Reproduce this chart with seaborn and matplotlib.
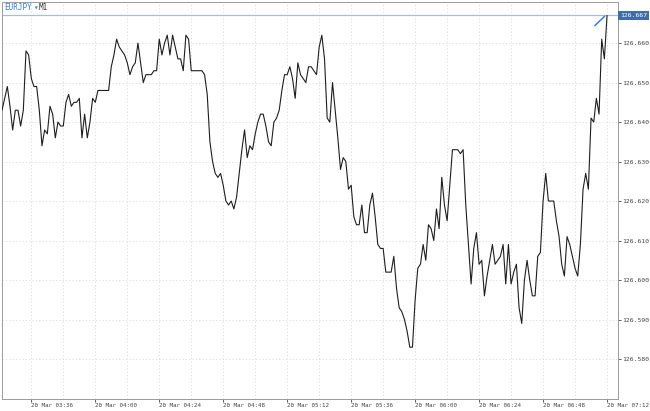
import pandas as pd
import matplotlib
matplotlib.use('Agg')
import matplotlib.pyplot as plt
import matplotlib.dates as mdates
import seaborn as sns

# EURJPY M1 closes, 20 Mar from 03:25 onwards
symbol = 'EURJPY'
timeframe = 'M1'
start_time = '2019-03-20 03:25'
close = [
    126.643, 126.646, 126.649, 126.644, 126.638, 126.643, 126.643, 126.639, 126.643, 126.658,
    126.657, 126.651, 126.649, 126.649, 126.643, 126.634, 126.638, 126.637, 126.644, 126.642,
    126.636, 126.640, 126.639, 126.639, 126.645, 126.647, 126.644, 126.645, 126.645, 126.646,
    126.636, 126.642, 126.636, 126.640, 126.646, 126.645, 126.648, 126.648, 126.648, 126.648,
    126.648, 126.654, 126.657, 126.661, 126.659, 126.658, 126.657, 126.655, 126.652, 126.654,
    126.655, 126.660, 126.655, 126.650, 126.652, 126.652, 126.652, 126.653, 126.653, 126.661,
    126.657, 126.660, 126.662, 126.657, 126.662, 126.659, 126.656, 126.656, 126.653, 126.662,
    126.661, 126.653, 126.653, 126.653, 126.653, 126.653, 126.652, 126.647, 126.635, 126.630,
    126.627, 126.626, 126.627, 126.624, 126.620, 126.619, 126.620, 126.618, 126.621, 126.627,
    126.633, 126.638, 126.631, 126.634, 126.633, 126.637, 126.640, 126.642, 126.642, 126.639,
    126.635, 126.634, 126.640, 126.641, 126.643, 126.648, 126.652, 126.652, 126.654, 126.651,
    126.646, 126.655, 126.652, 126.651, 126.650, 126.654, 126.654, 126.653, 126.652, 126.659,
    126.662, 126.656, 126.641, 126.640, 126.650, 126.643, 126.636, 126.628, 126.631, 126.630,
    126.623, 126.624, 126.616, 126.614, 126.614, 126.619, 126.612, 126.612, 126.619, 126.622,
    126.616, 126.609, 126.608, 126.608, 126.602, 126.602, 126.602, 126.606, 126.598, 126.593,
    126.592, 126.590, 126.587, 126.583, 126.583, 126.595, 126.603, 126.604, 126.609, 126.605,
    126.614, 126.613, 126.610, 126.618, 126.613, 126.626, 126.619, 126.615, 126.624, 126.633,
    126.633, 126.633, 126.632, 126.633, 126.619, 126.609, 126.599, 126.608, 126.612, 126.604,
    126.605, 126.596, 126.601, 126.605, 126.609, 126.604, 126.605, 126.606, 126.609, 126.599,
    126.609, 126.599, 126.602, 126.604, 126.593, 126.589, 126.600, 126.605, 126.600, 126.596,
    126.596, 126.606, 126.607, 126.620, 126.627, 126.620, 126.620, 126.620, 126.615, 126.611,
    126.604, 126.601, 126.611, 126.609, 126.606, 126.603, 126.601, 126.609, 126.623, 126.627,
    126.623, 126.641, 126.640, 126.646, 126.642, 126.661, 126.656, 126.667,
]

# user-drawn trend line (blue) near the last bars
trend_times = ['2019-03-20 07:07:24', '2019-03-20 07:11:06']
trend_prices = [126.6644, 126.6668]

# axis settings
x_start, x_end = '2019-03-20 03:25', '2019-03-20 07:16'
y_min, y_max = 126.5698, 126.6704
y_ticks = [126.580, 126.590, 126.600, 126.610, 126.620, 126.630, 126.640, 126.650, 126.660]
x_tick_first, x_tick_last = '2019-03-20 03:36', '2019-03-20 07:12'

df = pd.DataFrame({
    'time': pd.date_range(start=start_time, periods=len(close), freq='min'),
    'close': close,
})
last_price = close[-1]

sns.set_style('white')
plt.rcParams['font.family'] = ['DejaVu Sans Mono', 'DejaVu Sans']

fig = plt.figure(figsize=(6.5, 4.11), dpi=100)
ax = fig.add_axes([2 / 650, 1 - 399.3 / 411, 615.7 / 650, 397.3 / 411])

# grid: dotted, 12 minute verticals, 0.010 horizontals
minor_times = pd.date_range(x_tick_first, x_tick_last, freq='12min')
major_times = pd.date_range(x_tick_first, x_tick_last, freq='24min')
for t in minor_times:
    ax.axvline(t, color='#dadada', lw=0.6, ls=(0, (1.5, 2.5)), zorder=0)
for v in y_ticks:
    ax.axhline(v, color='#dadada', lw=0.6, ls=(0, (1.5, 2.5)), zorder=0)

# current price line
ax.axhline(last_price, color='#a9bdd8', lw=0.9, zorder=1)

# price line
sns.lineplot(data=df, x='time', y='close', ax=ax, color='#1e1e1e', lw=0.8, zorder=3)

# trend line object
ax.plot(pd.to_datetime(trend_times), trend_prices, color='#3b7dd8', lw=1.1, zorder=4)

ax.set_xlim(pd.Timestamp(x_start), pd.Timestamp(x_end))
ax.set_ylim(y_min, y_max)
ax.set_xlabel('')
ax.set_ylabel('')

ax.set_xticks(major_times)
ax.xaxis.set_major_formatter(mdates.DateFormatter('%d %b %H:%M'))
for lbl in ax.get_xticklabels():
    lbl.set_horizontalalignment('left')

ax.yaxis.tick_right()
ax.set_yticks(y_ticks)
ax.set_yticklabels([f'{v:.3f}' for v in y_ticks])
ax.tick_params(axis='both', colors='#444444', length=2, width=0.6)
ax.tick_params(axis='x', bottom=True, labelsize=4.2, pad=1)
ax.tick_params(axis='y', right=True, left=False, labelsize=4.6, pad=1)

for side in ['top', 'bottom', 'left', 'right']:
    ax.spines[side].set_visible(True)
    ax.spines[side].set_color('#9a9a9a')
    ax.spines[side].set_linewidth(0.7)

# last price tag on the right axis
ax.annotate(f'{last_price:.3f}', xy=(1, last_price), xycoords=('axes fraction', 'data'),
            xytext=(1.6, 0), textcoords='offset points', va='center', ha='left',
            fontsize=4.6, color='white',
            bbox=dict(boxstyle='square,pad=0.25', fc='#3f6ea6', ec='none'))

# symbol header
fig.text(4 / 650, 1 - 8 / 411, symbol, fontsize=5.5, color='#3b7dd8', va='center', ha='left')
fig.text(33 / 650, 1 - 8 / 411, '▾', fontsize=5.5, color='#3b7dd8', va='center', ha='left')
fig.text(39 / 650, 1 - 8 / 411, timeframe, fontsize=5.5, color='#333333', va='center', ha='left')

fig.savefig('out.png', dpi=100, facecolor='white')
